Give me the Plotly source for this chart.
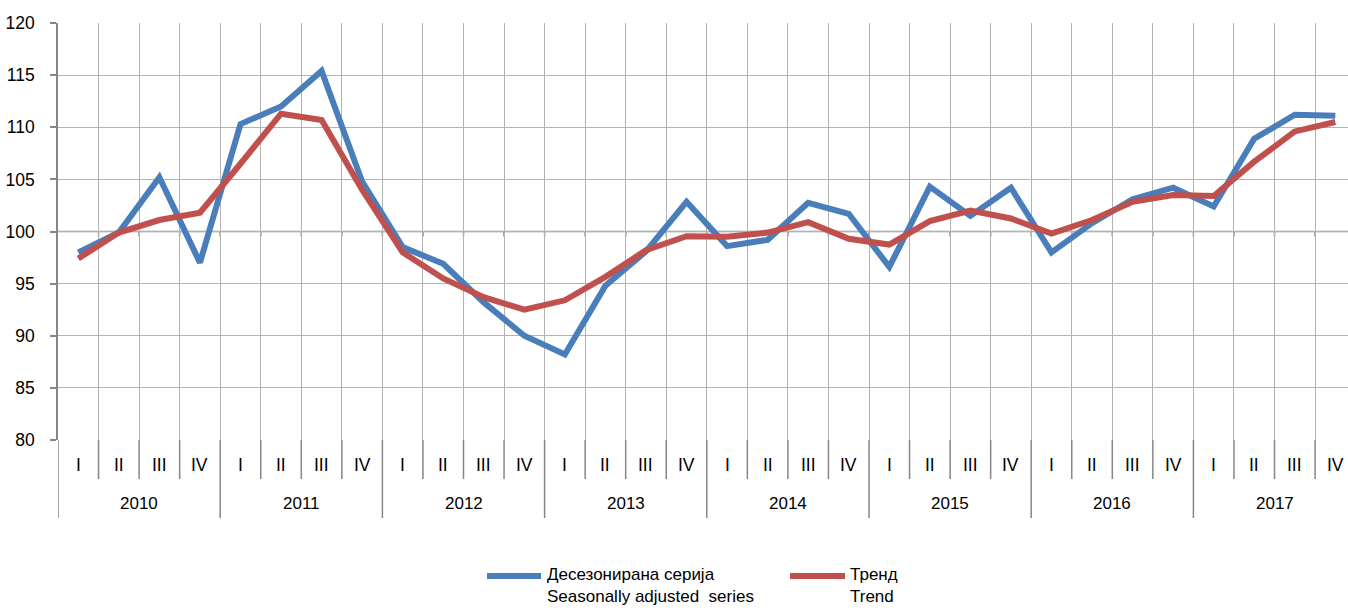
import plotly.graph_objects as go

years = ["2010", "2011", "2012", "2013", "2014", "2015", "2016", "2017"]
quarters = ["I", "II", "III", "IV"]

seasonally_adjusted = [98.0, 99.9, 105.2, 97.0,
                       110.3, 112.0, 115.4, 104.8,
                       98.5, 96.9, 93.2, 90.0,
                       88.2, 94.8, 98.1, 102.85,
                       98.6, 99.2, 102.75, 101.7,
                       96.6, 104.3, 101.5, 104.2,
                       98.0, 100.8, 103.1, 104.2,
                       102.4, 108.9, 111.2, 111.1]

trend = [97.4, 99.9, 101.1, 101.8,
         106.5, 111.3, 110.7, 104.0,
         98.0, 95.5, 93.7, 92.5,
         93.4, 95.65, 98.2, 99.55,
         99.5, 99.9, 100.9, 99.3,
         98.75, 101.0, 102.0, 101.25,
         99.8, 101.1, 102.85, 103.5,
         103.4, 106.7, 109.6, 110.5]

legend_names = ["Десезонирана серија<br>Seasonally adjusted  series", "Тренд<br>Trend"]

BLUE = "#4a7ebb"
RED = "#c0504d"
FONT = "Liberation Sans Narrow, Arial Narrow, Liberation Sans, Arial, sans-serif"
AX = "#868686"
GRID = "#b3b3b3"
TXT = "#000000"

n = len(years) * len(quarters)
x = list(range(n))

W, H = 1348, 610
ML, MT, MB = 58, 23, 170
plot_h = H - MT - MB
ymin, ymax = 80, 120
cat_w = 40.55
xmax = (W - ML) / cat_w - 0.5


def py2paper(py):
    return (MT + plot_h - py) / plot_h


def px2paper(px):
    return (px - ML) / (W - ML)


fig = go.Figure()
fig.add_trace(go.Scatter(x=x, y=seasonally_adjusted, mode="lines",
                         line=dict(color=BLUE, width=6), name=legend_names[0],
                         showlegend=False, cliponaxis=False))
fig.add_trace(go.Scatter(x=x, y=trend, mode="lines",
                         line=dict(color=RED, width=6), name=legend_names[1],
                         showlegend=False, cliponaxis=False))

boundaries = [k - 0.5 for k in range(n + 1)]

shapes = []
# horizontal axis line crossing at 100
shapes.append(dict(type="line", xref="paper", yref="y", x0=0, x1=1, y0=100, y1=100,
                   line=dict(color=AX, width=1.5), layer="below"))
y100 = (100 - ymin) / (ymax - ymin)
for b in boundaries[1:]:
    shapes.append(dict(type="line", xref="x", yref="paper", x0=b, x1=b,
                       y0=y100, y1=y100 - 5 / plot_h,
                       line=dict(color=AX, width=1.5), layer="below"))
# category dividers
for k, b in enumerate(boundaries):
    low = py2paper(518) if k % 4 == 0 else py2paper(479)
    shapes.append(dict(type="line", xref="x", yref="paper", x0=b, x1=b, y0=0, y1=low,
                       line=dict(color=AX, width=1.5)))

annotations = []
for i in range(n):
    annotations.append(dict(x=i, y=py2paper(465), xref="x", yref="paper", text=quarters[i % 4],
                            showarrow=False, font=dict(family=FONT, size=17.5, color=TXT),
                            xanchor="center", yanchor="middle"))
for j, yr in enumerate(years):
    annotations.append(dict(x=4 * j + 1.5, y=py2paper(503), xref="x", yref="paper", text=yr,
                            showarrow=False, font=dict(family=FONT, size=17, color=TXT),
                            xanchor="center", yanchor="middle"))

# legend
for (x0, x1, tx), col, name in [((487, 541, 545), BLUE, legend_names[0]),
                                 ((790, 845, 848), RED, legend_names[1])]:
    shapes.append(dict(type="line", xref="paper", yref="paper", x0=px2paper(x0), x1=px2paper(x1),
                       y0=py2paper(576), y1=py2paper(576), line=dict(color=col, width=6)))
    annotations.append(dict(x=px2paper(tx), y=py2paper(563), xref="paper", yref="paper", text=name,
                            showarrow=False, align="left", xanchor="left", yanchor="top",
                            font=dict(family=FONT, size=17, color=TXT)))

fig.update_layout(
    width=W, height=H,
    margin=dict(l=ML, r=0, t=MT, b=MB, pad=0, autoexpand=False),
    plot_bgcolor="white", paper_bgcolor="white",
    font=dict(family=FONT, size=17, color=TXT),
    shapes=shapes, annotations=annotations,
    xaxis=dict(range=[-0.5, xmax], tickvals=boundaries, showticklabels=False,
               showgrid=True, gridcolor=GRID, gridwidth=1, zeroline=False, ticks=""),
    yaxis=dict(range=[ymin, ymax], dtick=5, tick0=80, showgrid=True, gridcolor=GRID,
               gridwidth=1, zeroline=False, showline=True, linecolor=AX, linewidth=1.5,
               ticks="outside", ticklen=6, tickcolor=AX, tickwidth=1.5,
               ticklabelstandoff=12, tickfont=dict(family=FONT, size=17.5, color=TXT)),
)

fig.write_html("out.html", config={"displayModeBar": False},
               post_script="document.body.style.margin='0';")
